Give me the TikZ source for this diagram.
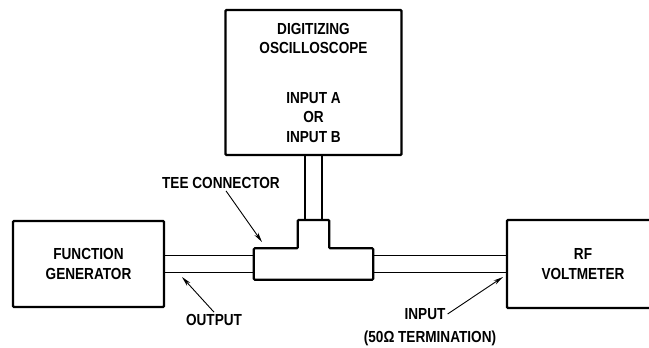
\documentclass[tikz,border=0pt]{standalone}
\usepackage{fontspec}
\setmainfont{Liberation Sans}[FakeStretch=0.85]
\usetikzlibrary{arrows.meta}

\tikzset{
    unit/.style={draw, line width=2.4pt, rounded corners=1pt, inner sep=0pt, align=center},
    teeline/.style={line width=2.2pt, rounded corners=1pt},
    cable/.style={line width=1.8pt},
    pointer/.style={line width=0.9pt, -{Stealth[length=10pt,width=4.5pt]}},
    lbl/.style={align=center, inner sep=2pt}
}

\begin{document}
\begin{tikzpicture}[x=1pt, y=-1pt, every node/.style={font=\fontsize{16}{19.5}\selectfont\bfseries}]
    \clip (0,0) rectangle (649,348);

    % Приборы
    \node[unit, minimum width=176pt, minimum height=145pt] (osc) at (313.5,82.5)
        {DIGITIZING\\OSCILLOSCOPE\\[30pt]INPUT A\\OR\\INPUT B};
    \node[unit, minimum width=151pt, minimum height=86pt] (fgen) at (88.5,264) {FUNCTION\\GENERATOR};
    \node[unit, minimum width=152pt, minimum height=88pt] (rfv) at (583,264) {RF\\VOLTMETER};

    % Тройник
    \node[minimum width=119pt, minimum height=31pt, inner sep=0pt] (tee) at (313.5,264) {};
    \node[minimum width=31pt, minimum height=28pt, inner sep=0pt, anchor=south] (stub) at (tee.north) {};
    \draw[teeline] (tee.south west) -- (tee.north west) -- (stub.south west) -- (stub.north west)
        -- (stub.north east) -- (stub.south east) -- (tee.north east) -- (tee.south east) -- cycle;

    % Кабели
    \foreach \s in {-8.5,8.5} {
        \draw[cable] ([yshift=\s pt]fgen.east) -- ([yshift=\s pt]tee.west);
        \draw[cable] ([yshift=\s pt]tee.east) -- ([yshift=\s pt]rfv.west);
        \draw[cable] ([xshift=\s pt]osc.south) -- ([xshift=\s pt]stub.north);
    }

    % Подписи
    \node[lbl] (teelbl) at (221,183) {TEE CONNECTOR};
    \coordinate (teetip) at (262,242);
    \draw[pointer] ([xshift=5pt]teelbl.south) -- (teetip);

    \node[lbl] (outlbl) at (214,320) {OUTPUT};
    \coordinate (outtip) at (182,277);
    \draw[pointer] (outlbl.north) -- (outtip);

    \node[lbl] (inlbl) at (425,314) {INPUT};
    \node[lbl] (termlbl) at (430,338) {(50Ω TERMINATION)};
    \coordinate (intip) at (503,277);
    \draw[pointer] (inlbl.east) -- (intip);
\end{tikzpicture}
\end{document}
